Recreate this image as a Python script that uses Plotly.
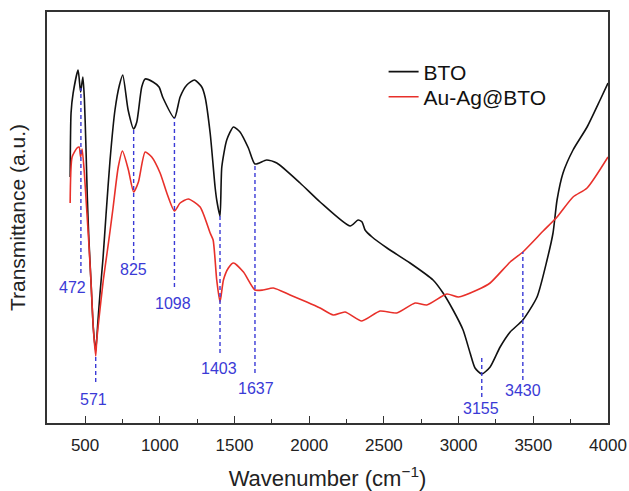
import plotly.graph_objects as go

# ---- data (wavenumber in cm^-1, transmittance in a.u.) ----
bto_x = [400, 406, 420, 453, 470, 485, 495, 505, 515, 525, 540, 555, 571, 585, 600, 620, 640, 667,
         700, 730, 752, 788, 825, 846, 879, 902, 955, 995, 1022, 1098, 1136, 1181, 1232, 1281,
         1303, 1337, 1370, 1381, 1403, 1415, 1448, 1493, 1537, 1593, 1637, 1715, 1783, 1939,
         2073, 2274, 2327, 2354, 2374, 2421, 2521, 2675, 2829, 2896, 2963, 3030, 3077, 3110,
         3155, 3211, 3278, 3345, 3430, 3525, 3592, 3632, 3659, 3699, 3766, 3860, 3947, 4000]
bto_y = [246, 310, 330, 353, 331, 346, 325, 280, 225, 185, 140, 95, 72, 100, 130, 165, 208, 263,
         313, 338, 348, 313, 294, 301, 336, 344, 341, 336, 325, 305, 326, 338, 343, 336,
         326, 290, 236, 223, 207, 256, 283, 296, 291, 275, 259, 263, 260, 240,
         221, 197, 203, 201, 193, 186, 175, 160, 143, 130, 113, 93, 70, 55,
         49, 56, 76, 91, 103, 126, 163, 190, 223, 250, 273, 296, 323, 340]

au_x = [400, 413, 446, 460, 470, 480, 495, 510, 525, 540, 555, 571, 578, 600, 622, 647, 667, 687,
        722, 750, 790, 825, 857, 902, 946, 1002, 1047, 1098, 1136, 1191, 1270, 1337, 1357, 1381,
        1403, 1426, 1459, 1493, 1560, 1637, 1691, 1760, 1872, 1984, 2073, 2162, 2240, 2352,
        2474, 2586, 2709, 2787, 2921, 2999, 3124, 3211, 3345, 3430, 3566, 3659, 3766, 3860, 4000]
au_y = [220, 266, 275, 276, 266, 274, 250, 215, 180, 140, 95, 67, 83, 114, 143, 170, 192, 215,
        256, 272, 253, 231, 241, 271, 266, 250, 230, 212, 220, 224, 216, 190, 183, 143,
        121, 143, 155, 160, 151, 133, 133, 135, 128, 121, 115, 108, 111, 102,
        112, 110, 120, 118, 129, 126, 133, 140, 161, 171, 192, 206, 226, 235, 266]

peaks = [472, 571, 825, 1098, 1403, 1637, 3155, 3430]
peak_labels = ["472", "571", "825", "1098", "1403", "1637", "3155", "3430"]
line_top = [335, 66, 294, 305, 210, 259, 68, 171]
line_bottom = [150, 41, 163, 136, 70, 50, 26, 43]
label_x = [413, 556, 825, 1090, 1398, 1645, 3150, 3432]
label_y = [136, 24, 154, 120, 55, 35, 15, 33]

FONT = "Liberation Sans, Arial, sans-serif"
BLUE = "#3a3ad6"

fig = go.Figure()
fig.add_trace(go.Scatter(x=bto_x, y=bto_y, mode="lines", name="BTO", legend="legend",
                         line=dict(color="#111111", width=1.6, shape="spline", smoothing=0.6)))
fig.add_trace(go.Scatter(x=au_x, y=au_y, mode="lines", name="Au-Ag@BTO", legend="legend2",
                         line=dict(color="#e8302a", width=1.6, shape="spline", smoothing=0.6)))

for p, t, b in zip(peaks, line_top, line_bottom):
    fig.add_shape(type="line", x0=p, x1=p, y0=b, y1=t, xref="x", yref="y",
                  line=dict(color=BLUE, width=1.4, dash="4px,3px"), layer="above")
for lx, ly, txt in zip(label_x, label_y, peak_labels):
    fig.add_annotation(x=lx, y=ly, text=txt, showarrow=False, xref="x", yref="y",
                       font=dict(family=FONT, size=16, color=BLUE))

leg_common = dict(xanchor="left", yanchor="middle", bgcolor="rgba(0,0,0,0)",
                  font=dict(family=FONT, size=21, color="#111111"), borderwidth=0)

fig.update_layout(
    width=629, height=491,
    margin=dict(l=47, r=21, t=12, b=68, autoexpand=False),
    paper_bgcolor="white", plot_bgcolor="white",
    font=dict(family=FONT, color="#222222"),
    showlegend=True,
    legend=dict(x=0.6, y=0.854, **leg_common),
    legend2=dict(x=0.6, y=0.793, **leg_common),
    xaxis=dict(range=[245, 4000], tickmode="array", automargin=False,
               tickvals=[500, 1000, 1500, 2000, 2500, 3000, 3500, 4000],
               ticks="inside", ticklen=7, tickwidth=1.3, tickcolor="#333333",
               minor=dict(tickvals=[750, 1250, 1750, 2250, 2750, 3250, 3750],
                          ticks="inside", ticklen=4, tickwidth=1.2, tickcolor="#333333"),
               showline=True, linecolor="#333333", linewidth=1.5, mirror=True,
               showgrid=False, zeroline=False,
               tickfont=dict(family=FONT, size=17, color="#222222"),
               ticklabelstandoff=6,
               title=dict(text="Wavenumber (cm<sup>−1</sup>)",
                          font=dict(family=FONT, size=22, color="#222222"), standoff=18)),
    yaxis=dict(range=[0, 411], showticklabels=False, ticks="", automargin=False,
               showline=True, linecolor="#333333", linewidth=1.5, mirror=True,
               showgrid=False, zeroline=False,
               title=dict(text="Transmittance (a.u.)",
                          font=dict(family=FONT, size=21, color="#222222"), standoff=14)),
)

fig.write_html("out.html")
